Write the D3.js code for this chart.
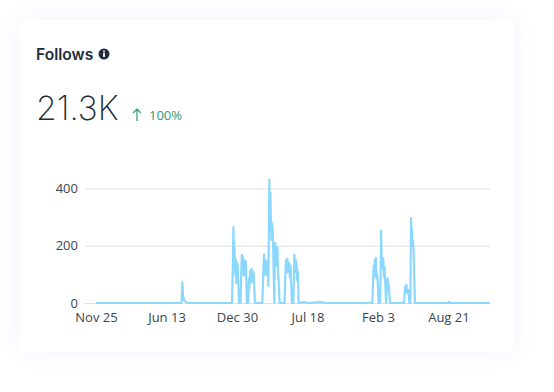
<!DOCTYPE html>
<html>
<head>
<meta charset="utf-8">
<script src="https://cdn.jsdelivr.net/npm/d3@7"></script>
<style>
    html, body { margin: 0; padding: 0; background: #fff; overflow: hidden; }
    #card {
        position: absolute; left: 20px; top: 20px; width: 494px; height: 332px;
        background: #fff; border-radius: 6px;
        box-shadow: 0 0 22px rgba(110, 120, 255, 0.09);
    }
    svg { position: absolute; left: 0; top: 0; }
</style>
</head>
<body>
<div id="card"></div>
<div id="chart"></div>
<script>
// Days since the first date, and follows on that day
const startDate = "2021-11-25";
const days = [0, 241, 243, 245, 247, 250, 255, 262, 380, 386, 388, 390, 391, 392, 394, 395, 397, 398, 400, 402, 404, 406,
    410, 412, 414, 415, 417, 419, 421, 423, 425, 427, 428, 432, 434, 435, 437, 439, 441, 443, 445, 447, 449, 451,
    472, 475, 477, 479, 481, 482, 484, 486, 488, 489, 491, 492, 493, 495, 496, 498, 499, 501, 503, 504, 506, 507, 509,
    510, 512, 513, 515, 516, 519, 521, 535, 537, 539, 541, 543, 545, 548, 550, 552, 554, 556, 560, 562, 563, 565,
    567, 569, 571, 573, 575, 590, 600, 640, 650, 784, 786, 788, 789, 791, 793, 794, 796, 798, 800, 802, 806, 808, 809,
    811, 813, 815, 817, 819, 821, 823, 825, 827, 829, 830, 832, 834, 874, 876, 877, 879, 881, 883, 886, 888, 889, 892,
    893, 894, 895, 896, 898, 899, 901, 903, 905, 998, 1001, 1004, 1118];
const follows = [0, 0, 4, 73, 25, 10, 3, 0, 0, 0, 120, 265, 170, 215, 155, 100, 150, 70, 140, 130, 60, 0,
    0, 100, 168, 110, 160, 95, 150, 100, 145, 60, 0, 0, 85, 50, 112, 70, 118, 75, 110, 108, 60, 0,
    0, 120, 168, 100, 150, 98, 125, 108, 150, 60, 300, 430, 280, 385, 300, 220, 280, 262, 180, 120, 0, 150, 210,
    140, 185, 130, 195, 120, 60, 0, 0, 90, 150, 105, 155, 110, 140, 90, 130, 60, 0, 0, 100, 168, 110,
    150, 133, 80, 110, 0, 3, 0, 3, 0, 0, 70, 130, 90, 150, 100, 157, 85, 98, 60, 0, 0, 130, 252,
    120, 130, 157, 90, 125, 60, 0, 50, 87, 50, 70, 40, 0, 0, 35, 56, 40, 63, 35, 45, 20, 0, 0,
    160, 297, 210, 262, 200, 220, 190, 90, 0, 0, 5, 0, 0];

const tickDates = ["2021-11-25", "2022-06-13", "2022-12-30", "2023-07-18", "2024-02-03", "2024-08-21"];
const yTicks = [0, 200, 400];

const title = "Follows";
const total = "21.3K";
const change = "100%";

const width = 554;
const height = 392;
const bodyFont = "'Open Sans', sans-serif";
const headFont = "Inter, sans-serif";
const dark = "#212c38";

const parseDate = d3.utcParse("%Y-%m-%d");
const start = parseDate(startDate);
const dates = days.map(d => d3.utcDay.offset(start, d));

const x = d3.scaleUtc()
    .domain([start, d3.utcDay.offset(start, 1118)])
    .range([96, 490]);

const y = d3.scaleLinear()
    .domain([0, 400])
    .range([303, 188.5]);

const svg = d3.select("#chart")
    .append("svg")
    .attr("width", width)
    .attr("height", height);

// Header
svg.append("text")
    .attr("x", 36).attr("y", 60)
    .attr("font-family", headFont).attr("font-weight", 600).attr("font-size", 15.6)
    .attr("fill", dark)
    .text(title);

const info = svg.append("g").attr("transform", "translate(104,54)");
info.append("circle").attr("r", 5.5).attr("fill", dark);
info.append("rect").attr("x", -0.9).attr("y", -1).attr("width", 1.8).attr("height", 4).attr("fill", "#fff");
info.append("rect").attr("x", -0.9).attr("y", -3.4).attr("width", 1.8).attr("height", 1.6).attr("fill", "#fff");

svg.append("text")
    .attr("x", 36).attr("y", 120)
    .attr("font-family", headFont).attr("font-weight", 200).attr("font-size", 33.5)
    .attr("fill", dark)
    .text(total);

svg.append("path")
    .attr("d", "M137 121V109M133 113L137 109L141 113")
    .attr("fill", "none")
    .attr("stroke", "#2e9b78")
    .attr("stroke-width", 1.2);

svg.append("text")
    .attr("x", 149).attr("y", 120)
    .attr("font-family", bodyFont).attr("font-size", 13)
    .attr("fill", "#2e9b78")
    .text(change);

// Axes
svg.append("g")
    .attr("transform", "translate(490,0)")
    .call(d3.axisLeft(y).tickValues(yTicks).tickSize(405).tickFormat(""))
    .call(g => g.select(".domain").remove())
    .call(g => g.selectAll("line").attr("stroke", "#dfdfdf").attr("stroke-width", 1.2));

svg.append("g")
    .attr("transform", "translate(78,0)")
    .call(d3.axisLeft(y).tickValues(yTicks).tickSize(0).tickPadding(0))
    .call(g => g.select(".domain").remove())
    .call(g => g.selectAll("text")
        .attr("font-family", bodyFont).attr("font-size", 13).attr("fill", "#3a4450"));

svg.append("g")
    .attr("transform", "translate(0,310)")
    .call(d3.axisBottom(x)
        .tickValues(tickDates.map(parseDate))
        .tickSize(0)
        .tickPadding(3)
        .tickFormat(d3.utcFormat("%b %-d")))
    .call(g => g.select(".domain").remove())
    .call(g => g.selectAll("text")
        .attr("font-family", bodyFont).attr("font-size", 13).attr("fill", "#3a4450"));

// Line
const line = d3.line()
    .x((d, i) => x(dates[i]))
    .y(d => y(d));

svg.append("path")
    .datum(follows)
    .attr("fill", "none")
    .attr("stroke", "#8bd8ff")
    .attr("stroke-width", 2.2)
    .attr("stroke-linejoin", "round")
    .attr("d", line);
</script>
</body>
</html>
